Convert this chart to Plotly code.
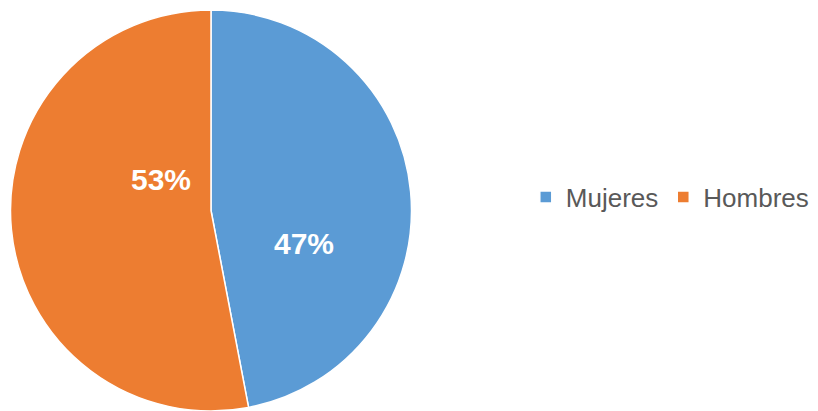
import plotly.graph_objects as go

labels = ["Mujeres", "Hombres"]
values = [47, 53]
colors = ["#5B9BD5", "#ED7D31"]

# label spots (paper coords), Excel-like placement
label_x = [0.362, 0.187]
label_y = [0.428, 0.582]

fig = go.Figure()

fig.add_trace(go.Pie(
    labels=labels,
    values=values,
    sort=False,
    direction="clockwise",
    rotation=0,
    marker=dict(colors=colors, line=dict(color="white", width=1.5)),
    textinfo="none",
    domain=dict(x=[2/818, 404/818], y=[8/411, 1 - 2/411]),
    hoverinfo="label+percent",
))

total = sum(values)
for v, lx, ly in zip(values, label_x, label_y):
    fig.add_annotation(
        x=lx, y=ly, xref="paper", yref="paper",
        xanchor="center", yanchor="middle",
        text=f"{round(100 * v / total)}%",
        showarrow=False,
        font=dict(family="Liberation Sans, Arial", size=30, color="white", weight="bold"),
    )

fig.update_layout(
    width=818,
    height=411,
    margin=dict(l=0, r=0, t=0, b=0),
    paper_bgcolor="white",
    plot_bgcolor="white",
    showlegend=True,
    legend=dict(
        orientation="h",
        x=0.633, y=0.54,
        xanchor="left", yanchor="middle",
        font=dict(family="Liberation Sans, Arial", size=26, color="#595959"),
    ),
)

fig.write_html("out.html")
